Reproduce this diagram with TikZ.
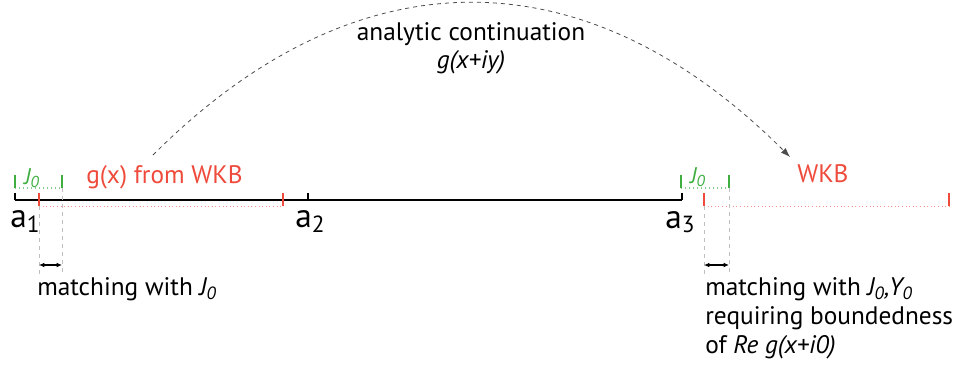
\documentclass[tikz,border=0pt]{standalone}
\usepackage{fontspec}
\setmainfont{PT Sans}
\usetikzlibrary{arrows.meta, positioning}
\definecolor{wkbred}{HTML}{EF4B3C}
\definecolor{jgreen}{HTML}{3DAE3F}
\tikzset{>/.tip={Latex[length=7pt,width=5pt]}}
\tikzset{m/.tip={Latex[length=4pt,width=3.5pt]}}
\tikzset{axisline/.style={line width=0.9pt}}
\tikzset{redtick/.style={wkbred, line width=1.5pt}}
\tikzset{greentick/.style={jgreen, line width=1.5pt}}
\tikzset{reddots/.style={wkbred!60, dotted, line width=0.7pt}}
\tikzset{greendots/.style={jgreen!60, dotted, line width=1pt}}
\tikzset{guide/.style={black!25, dashed, line width=0.6pt}}
\tikzset{lbl/.style={inner sep=0pt, anchor=base west, font=\fontsize{19}{23}\selectfont}}
\tikzset{jlbl/.style={lbl, text=jgreen, font=\fontsize{17}{20}\selectfont}}
\tikzset{pt/.style={inner sep=0pt, anchor=base west, font=\fontsize{25}{30}\selectfont}}

\begin{document}
\begin{tikzpicture}[x=0.75pt, y=-0.75pt]
\useasboundingbox (0,0) rectangle (963,369);
% the real axis
\coordinate (p1) at (15,200);
\coordinate (p2) at (308,200);
\coordinate (p3) at (682,200);
\draw[axisline] (p1) -- (p3);
\foreach \p in {p1,p2,p3} \draw[axisline] (\p) -- ++(0,-7);
\node[pt] (a1) at (10,227) {a\textsubscript{1}};
\node[pt] (a2) at (295,227) {a\textsubscript{2}};
\node[pt] (a3) at (665,228) {a\textsubscript{3}};

% WKB intervals
\coordinate (rl) at (39,206);
\coordinate (rr) at (283,206);
\coordinate (sl) at (704,206);
\coordinate (sr) at (949,206);
\draw[reddots] (rl) -- (rr);
\draw[reddots] (sl) -- (sr);
\foreach \p in {rl,rr,sl,sr} \draw[redtick] (\p) -- ++(0,-13);
\node[lbl, text=wkbred] (gx) at (86,183) {g(x) from WKB};
\node[lbl, text=wkbred] (wkb) at (797,182) {WKB};

% Bessel intervals
\coordinate (jl) at (15,188);
\coordinate (jr) at (62,188);
\coordinate (kl) at (681,188);
\coordinate (kr) at (729,188);
\draw[greendots] (jl) -- (jr);
\draw[greendots] (kl) -- (kr);
\foreach \p in {jl,jr,kl,kr} \draw[greentick] (\p) -- ++(0,-13);
\node[jlbl] (j1) at (24,184) {\textit{J\textsubscript{0}}};
\node[jlbl] (j2) at (690,183) {\textit{J\textsubscript{0}}};

% matching regions
\coordinate (ml) at (39,275);
\coordinate (mr) at (62,275);
\coordinate (nl) at (704,275);
\coordinate (nr) at (729,275);
\draw[guide] (rl) -- (ml);
\draw[guide] (jr) -- (mr);
\draw[guide] (sl) -- (nl);
\draw[guide] (kr) -- (nr);
\coordinate (ul) at (39,265);
\coordinate (ur) at (62,265);
\coordinate (vl) at (704,265);
\coordinate (vr) at (729,265);
\draw[m-m, line width=0.8pt] (ul) -- (ur);
\draw[m-m, line width=0.8pt] (vl) -- (vr);
\node[lbl] (m1) at (37,295) {matching with \textit{J\textsubscript{0}}};
\node[lbl] (m2) at (705,295) {matching with \textit{J\textsubscript{0},Y\textsubscript{0}}};
\node[lbl] (m3) at (705,324) {requiring boundedness};
\node[lbl] (m4) at (705,353) {of \textit{Re g(x+i0)}};

% continuation
\coordinate (cs) at (153,155);
\coordinate (ce) at (790,157);
\draw[->, black!70, dashed, line width=0.6pt] (cs) .. controls (357,-49) and (586,-47) .. (ce);
\node[lbl, anchor=base] (ac) at (471,40) {analytic continuation};
\node[lbl, anchor=base] (gi) at (471,68) {\textit{g(x+iy)}};
\end{tikzpicture}
\end{document}
